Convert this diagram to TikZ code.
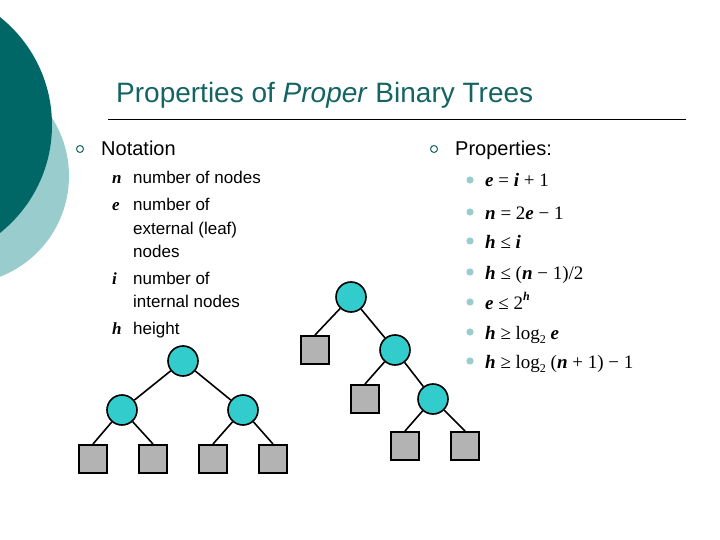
\documentclass[tikz,border=0pt]{standalone}
\usepackage{fontspec}
\setmainfont{Liberation Sans}
\newfontfamily\tm{Liberation Serif}
\definecolor{darkteal}{RGB}{0,102,102}
\definecolor{lightteal}{RGB}{153,204,204}
\definecolor{titleteal}{RGB}{20,100,100}
\definecolor{nodecyan}{RGB}{51,204,204}
\definecolor{leafgray}{RGB}{179,179,179}
\tikzset{
  inode/.style={circle,draw=black,line width=1.6pt,fill=nodecyan,minimum size=30pt,inner sep=0pt},
  leaf/.style={rectangle,draw=black,line width=2pt,fill=leafgray,minimum size=28pt,inner sep=0pt},
  edge/.style={line width=1.6pt},
  txt/.style={anchor=base west,inner sep=0pt,font=\fontsize{17}{20}\selectfont},
  var/.style={anchor=base west,inner sep=0pt,font=\tm\bfseries\itshape\fontsize{17}{20}\selectfont},
  prop/.style={anchor=base west,inner sep=0pt,font=\tm\fontsize{19}{22}\selectfont},
}
\begin{document}
\begin{tikzpicture}[x=1pt,y=-1pt]
\useasboundingbox (0,0) rectangle (720,540);
\fill[white] (0,0) rectangle (720,540);
\begin{scope}
\clip (0,0) rectangle (720,540);
\fill[lightteal] (-39,176) circle (108);
\fill[darkteal] (-86,125) circle (138);
\end{scope}
\node[anchor=base west,inner sep=0pt,text=titleteal,font=\fontsize{28}{32}\selectfont] (title) at (116,103) {Properties of \textit{Proper} Binary Trees};
\draw[line width=1pt] (108,120) coordinate (l1) -- (686,120) coordinate (l2);
% left bullets
\node[circle,draw=titleteal,line width=1pt,minimum size=7pt,inner sep=0pt] (b1) at (80,149) {};
\node[anchor=base west,inner sep=0pt,font=\fontsize{20}{24}\selectfont] (nota) at (101,156) {Notation};
\node[var] (vn) at (112,184) {n};
\node[txt] (tn) at (133,184) {number of nodes};
\node[var] (ve) at (112,211) {e};
\node[txt] (te1) at (133,211) {number of};
\node[txt] (te2) at (133,234) {external (leaf)};
\node[txt] (te3) at (133,257) {nodes};
\node[var] (vi) at (112,284) {i};
\node[txt] (ti1) at (133,284) {number of};
\node[txt] (ti2) at (133,307) {internal nodes};
\node[var] (vh) at (112,334) {h};
\node[txt] (th) at (133,334) {height};
% right bullets
\node[circle,draw=titleteal,line width=1pt,minimum size=7pt,inner sep=0pt] (b2) at (434,149) {};
\node[anchor=base west,inner sep=0pt,font=\fontsize{20}{24}\selectfont] (props) at (455,156) {Properties:};
\foreach \y/\n in {180/1,212/2,241/3,272/4,302/5,332/6,361/7}{
  \fill[lightteal] (470,\y) circle (3.6pt);
}
\node[prop] (p1) at (485,187) {\textbf{\textit{e}} = \textbf{\textit{i}} + 1};
\node[prop] (p2) at (485,219) {\textbf{\textit{n}} = 2\textbf{\textit{e}} − 1};
\node[prop] (p3) at (485,248) {\textbf{\textit{h}} ≤ \textbf{\textit{i}}};
\node[prop] (p4) at (485,279) {\textbf{\textit{h}} ≤ (\textbf{\textit{n}} − 1)/2};
\node[prop] (p5) at (485,309) {\textbf{\textit{e}} ≤ 2\raisebox{0.45em}{\fontsize{12}{12}\selectfont\textbf{\textit{h}}}};
\node[prop] (p6) at (485,339) {\textbf{\textit{h}} ≥ log\raisebox{-0.25em}{\fontsize{12}{12}\selectfont 2} \textbf{\textit{e}}};
\node[prop] (p7) at (485,368) {\textbf{\textit{h}} ≥ log\raisebox{-0.25em}{\fontsize{12}{12}\selectfont 2} (\textbf{\textit{n}} + 1) − 1};
% left tree
\node[inode] (r) at (183,361) {};
\node[inode] (a) at (122,410) {};
\node[inode] (b) at (243,410) {};
\node[leaf] (a1) at (93,459) {};
\node[leaf] (a2) at (153,459) {};
\node[leaf] (b1l) at (213,459) {};
\node[leaf] (b2l) at (273,459) {};
\begin{scope}[on background layer/.style={}]
\end{scope}
\draw[edge] (r) -- (a); \draw[edge] (r) -- (b);
\draw[edge] (a) -- (a1.north); \draw[edge] (a) -- (a2.north);
\draw[edge] (b) -- (b1l.north); \draw[edge] (b) -- (b2l.north);
% right tree
\node[inode] (s) at (351,297) {};
\node[leaf] (s1) at (315,350) {};
\node[inode] (t) at (395,350) {};
\node[leaf] (t1) at (365,399) {};
\node[inode] (u) at (433,399) {};
\node[leaf] (u1) at (405,446) {};
\node[leaf] (u2) at (465,446) {};
\draw[edge] (s) -- (s1.north); \draw[edge] (s) -- (t);
\draw[edge] (t) -- (t1.north); \draw[edge] (t) -- (u);
\draw[edge] (u) -- (u1.north); \draw[edge] (u) -- (u2.north);
\end{tikzpicture}
\end{document}
